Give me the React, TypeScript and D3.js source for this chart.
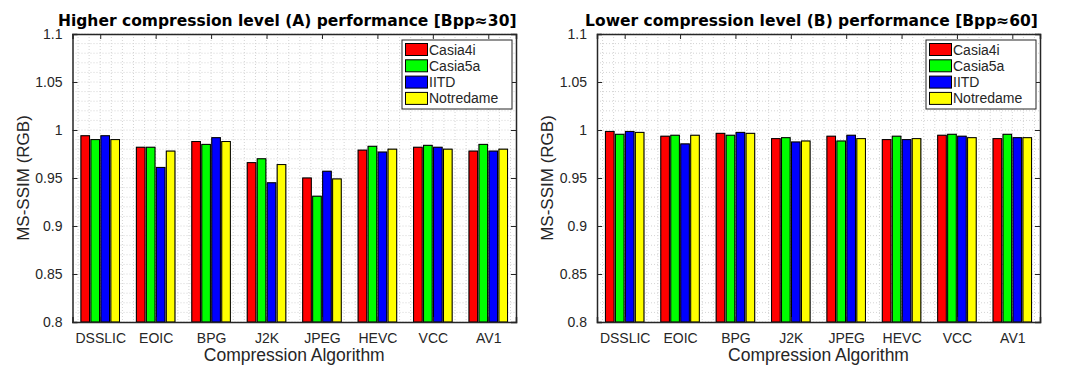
import { useEffect, useRef } from "react";
import * as d3 from "d3";

const algorithms = ["DSSLIC", "EOIC", "BPG", "J2K", "JPEG", "HEVC", "VCC", "AV1"];
const datasets = ["Casia4i", "Casia5a", "IITD", "Notredame"];
const colors = ["#ff0000", "#00ff00", "#0000ff", "#ffff00"];
const yTicks = [0.8, 0.85, 0.9, 0.95, 1, 1.05, 1.1];

// level A (Bpp ~ 30)
const casia4iA = [0.994, 0.982, 0.988, 0.966, 0.95, 0.979, 0.982, 0.978];
const casia5aA = [0.99, 0.982, 0.985, 0.97, 0.931, 0.983, 0.984, 0.985];
const iitdA = [0.994, 0.961, 0.992, 0.945, 0.957, 0.977, 0.982, 0.978];
const notredameA = [0.99, 0.978, 0.988, 0.964, 0.949, 0.98, 0.98, 0.98];

// level B (Bpp ~ 60)
const casia4iB = [0.9985, 0.9935, 0.9965, 0.991, 0.9935, 0.990, 0.9945, 0.991];
const casia5aB = [0.9955, 0.9945, 0.9945, 0.992, 0.9885, 0.9935, 0.9955, 0.9955];
const iitdB = [0.9985, 0.9855, 0.9975, 0.9875, 0.9945, 0.990, 0.9935, 0.992];
const notredameB = [0.9975, 0.9945, 0.9965, 0.9885, 0.991, 0.991, 0.992, 0.992];

const panels = [
  {
    title: "Higher compression level (A) performance [Bpp\u224830]",
    series: [casia4iA, casia5aA, iitdA, notredameA],
    left: 72.5,
    right: 516,
  },
  {
    title: "Lower compression level (B) performance [Bpp\u224860]",
    series: [casia4iB, casia5aB, iitdB, notredameB],
    left: 597,
    right: 1040,
  },
];

export default function App() {
  const ref = useRef<SVGSVGElement>(null);
  useEffect(() => {
    const svg = d3.select(ref.current);
    svg.selectAll("*").remove();
    const top = 34;
    const bottom = 322;
    const axisColor = "#262626";
    const font = "'Liberation Sans', Arial, sans-serif";

    panels.forEach((p) => {
      const x = d3.scaleLinear().domain([0.5, 8.5]).range([p.left, p.right]);
      const y = d3.scaleLinear().domain([0.8, 1.1]).range([bottom, top]);
      const g = svg.append("g");

      // minor grid
      const minorY = d3.range(0.8, 1.1001, 0.01);
      const minorX = d3.range(0.6, 8.5, 0.2);
      g.selectAll(".gy")
        .data(minorY)
        .enter()
        .append("line")
        .attr("x1", p.left)
        .attr("x2", p.right)
        .attr("y1", (d) => y(d))
        .attr("y2", (d) => y(d))
        .attr("stroke", "#d4d4d4")
        .attr("stroke-width", 1)
        .attr("stroke-dasharray", "1,2");
      g.selectAll(".gx")
        .data(minorX)
        .enter()
        .append("line")
        .attr("x1", (d) => x(d))
        .attr("x2", (d) => x(d))
        .attr("y1", top)
        .attr("y2", bottom)
        .attr("stroke", "#d4d4d4")
        .attr("stroke-width", 1)
        .attr("stroke-dasharray", "1,2");

      // bars
      const pitch = 0.18;
      const bw = 0.155;
      p.series.forEach((vals, si) => {
        const off = (si - 1.5) * pitch;
        g.selectAll(".b" + si)
          .data(vals)
          .enter()
          .append("rect")
          .attr("x", (_d, i) => x(i + 1 + off - bw / 2))
          .attr("width", x(bw) - x(0))
          .attr("y", (d) => y(d))
          .attr("height", (d) => y(0.8) - y(d))
          .attr("fill", colors[si])
          .attr("stroke", "#000")
          .attr("stroke-width", 1)
          .style("filter", "drop-shadow(0.6px 0px 0.6px rgba(0,0,0,0.55))");
      });

      // axes
      const fmt = (d: any) => String(+(+d).toFixed(2));
      const yl = g
        .append("g")
        .attr("transform", `translate(${p.left},0)`)
        .call(d3.axisLeft(y).tickValues(yTicks).tickSize(-5).tickPadding(10).tickFormat(fmt));
      const yr = g
        .append("g")
        .attr("transform", `translate(${p.right},0)`)
        .call(d3.axisRight(y).tickValues(yTicks).tickSize(-5).tickFormat(() => ""));
      const xb = g
        .append("g")
        .attr("transform", `translate(0,${bottom})`)
        .call(
          d3
            .axisBottom(x)
            .tickValues(d3.range(1, 9))
            .tickSize(-5)
            .tickPadding(11)
            .tickFormat((d: any) => algorithms[+d - 1])
        );
      const xt = g
        .append("g")
        .attr("transform", `translate(0,${top})`)
        .call(d3.axisTop(x).tickValues(d3.range(1, 9)).tickSize(-5).tickFormat(() => ""));
      [yl, yr, xb, xt].forEach((a) => {
        a.selectAll("path").attr("stroke", axisColor).attr("stroke-width", 1.5);
        a.selectAll("line").attr("stroke", axisColor).attr("stroke-width", 1);
        a.selectAll("text")
          .attr("fill", axisColor)
          .style("font-family", font)
          .style("font-size", "14px");
      });

      const cx = (p.left + p.right) / 2;
      g.append("text")
        .attr("x", cx)
        .attr("y", 361)
        .attr("text-anchor", "middle")
        .attr("fill", axisColor)
        .style("font-family", font)
        .style("font-size", "17.5px")
        .text("Compression Algorithm");
      g.append("text")
        .attr("transform", `translate(${p.left - 44},${(top + bottom) / 2}) rotate(-90)`)
        .attr("text-anchor", "middle")
        .attr("fill", axisColor)
        .style("font-family", font)
        .style("font-size", "17px")
        .text("MS-SSIM (RGB)");
      g.append("text")
        .attr("x", cx - 7)
        .attr("y", 26)
        .attr("text-anchor", "middle")
        .attr("fill", "#000")
        .style("font-family", "'DejaVu Sans', sans-serif")
        .style("font-weight", "bold")
        .style("font-size", "15.5px")
        .text(p.title);

      // legend
      const lx = p.right - 114;
      const ly = 40;
      const leg = g.append("g").attr("transform", `translate(${lx},${ly})`);
      leg
        .append("rect")
        .attr("width", 110)
        .attr("height", 69)
        .attr("fill", "#fff")
        .attr("stroke", axisColor)
        .attr("stroke-width", 1);
      datasets.forEach((name, i) => {
        leg
          .append("rect")
          .attr("x", 3.5)
          .attr("y", 3.5 + i * 16.3)
          .attr("width", 22)
          .attr("height", 12)
          .attr("fill", colors[i])
          .attr("stroke", "#000")
          .attr("stroke-width", 1);
        leg
          .append("text")
          .attr("x", 27)
          .attr("y", 14.5 + i * 16.3)
          .attr("fill", axisColor)
          .style("font-family", font)
          .style("font-size", "14px")
          .text(name);
      });
    });
  });

  return (
    <svg
      ref={ref}
      width={1067}
      height={365}
      style={{ position: "absolute", left: 0, top: 0, background: "#fff" }}
    />
  );
}
